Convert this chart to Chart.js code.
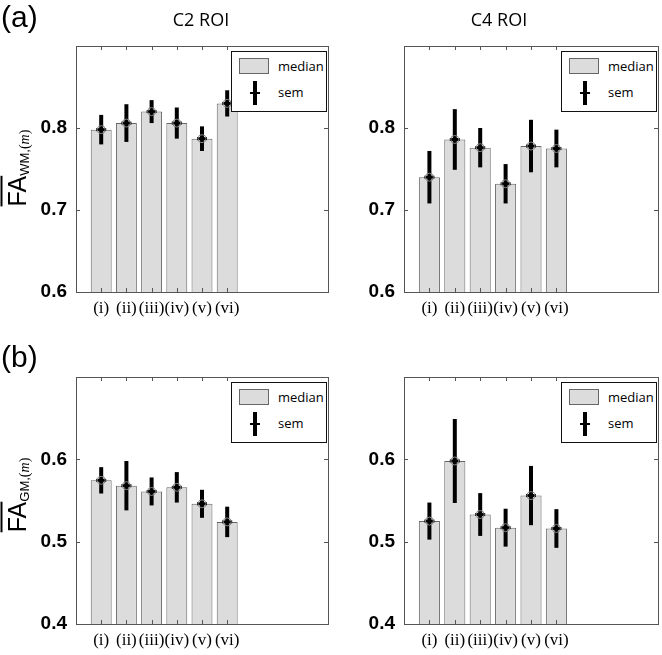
<!DOCTYPE html>
<html>
<head>
<meta charset="utf-8">
<script src="https://cdn.jsdelivr.net/npm/chart.js@4.4.0/dist/chart.umd.min.js"></script>
<style>
    body { margin: 0; background: #fff; }
    #fig { position: relative; width: 662px; height: 655px; overflow: hidden; font-family: "Liberation Sans", Arial, sans-serif; color: #000; }
    #fig canvas { position: absolute; }
    .lbl { position: absolute; white-space: nowrap; line-height: 1; }
    .tag { font-size: 30px; }
    .ttl { font-family: "Open Sans", sans-serif; font-size: 18px; transform: translate(-50%, -50%); }
    .ytitle { font-size: 25px; transform: translate(-50%, -50%) rotate(-90deg); }
    .ytitle .fa { text-decoration: overline; text-decoration-thickness: 1.5px; }
    .ytitle .sub { font-size: 13px; position: relative; top: 3px; }
    .ytitle .sub span { font-family: "Liberation Serif", serif; font-size: 14px; }
    .leg { position: absolute; width: 94px; height: 59px; border: 1.5px solid #111; background: #fff; font-family: "Open Sans", sans-serif; font-size: 13px; }
    .leg .patch { position: absolute; left: 7px; top: 6px; width: 28px; height: 14px; background: #dcdcdc; border: 1px solid #666; }
    .leg .t1 { position: absolute; left: 46px; top: 5px; }
    .leg .t2 { position: absolute; left: 46px; top: 31px; }
    .leg .v { position: absolute; left: 21px; top: 29px; width: 4px; height: 24px; background: #000; }
    .leg .h { position: absolute; left: 18px; top: 40px; width: 10px; height: 2px; background: #000; }
</style>
</head>
<body>
<div id="fig">
    <canvas id="c1" width="331" height="330" style="left:0;top:0"></canvas>
    <canvas id="c2" width="331" height="330" style="left:331px;top:0"></canvas>
    <canvas id="c3" width="331" height="325" style="left:0;top:330px"></canvas>
    <canvas id="c4" width="331" height="325" style="left:331px;top:330px"></canvas>

    <div class="lbl tag" style="left:1px;top:2px">(a)</div>
    <div class="lbl tag" style="left:1px;top:342px">(b)</div>
    <div class="lbl ttl" style="left:201px;top:19px">C2 ROI</div>
    <div class="lbl ttl" style="left:499px;top:19px">C4 ROI</div>
    <div class="lbl ytitle" style="left:17px;top:168px"><span class="fa">FA</span><span class="sub">WM,<span>(<i>m</i>)</span></span></div>
    <div class="lbl ytitle" style="left:17px;top:495px"><span class="fa">FA</span><span class="sub">GM,<span>(<i>m</i>)</span></span></div>
</div>

<script>
// --- data ---
const roiLabels = ['(i)', '(ii)', '(iii)', '(iv)', '(v)', '(vi)'];
const roiPos = [1, 2, 3, 4, 5, 6];
const xRange = [0, 10];

const wmC2Median = [0.798, 0.806, 0.820, 0.806, 0.787, 0.830];
const wmC2Sem    = [0.018, 0.023, 0.014, 0.019, 0.015, 0.016];
const wmC4Median = [0.740, 0.786, 0.776, 0.732, 0.778, 0.775];
const wmC4Sem    = [0.032, 0.037, 0.024, 0.024, 0.032, 0.023];
const gmC2Median = [0.5745, 0.568, 0.561, 0.566, 0.546, 0.524];
const gmC2Sem    = [0.016, 0.030, 0.017, 0.0185, 0.017, 0.0185];
const gmC4Median = [0.525, 0.598, 0.533, 0.517, 0.556, 0.516];
const gmC4Sem    = [0.0225, 0.051, 0.026, 0.023, 0.036, 0.0235];

const wmRange = [0.6, 0.9];
const wmTicks = [0.6, 0.7, 0.8];
const gmRange = [0.4, 0.7];
const gmTicks = [0.4, 0.5, 0.6];

const legendLabels = ['median', 'sem'];

// sem bars: thick black line, '+' and a faint circle at the median
const errorBars = {
    id: 'errorBars',
    afterDatasetsDraw(chart) {
        const ctx = chart.ctx, xs = chart.scales.x, ys = chart.scales.y;
        chart.data.datasets.forEach(ds => {
            ds.data.forEach((p, i) => {
                const x = xs.getPixelForValue(p.x);
                const yHi = ys.getPixelForValue(p.y + ds.sem[i]);
                const yLo = ys.getPixelForValue(p.y - ds.sem[i]);
                const yMid = ys.getPixelForValue(p.y);
                ctx.save();
                ctx.strokeStyle = '#000';
                ctx.lineWidth = 4;
                ctx.beginPath(); ctx.moveTo(x, yHi); ctx.lineTo(x, yLo); ctx.stroke();
                ctx.lineWidth = 3;
                ctx.beginPath(); ctx.moveTo(x - 5, yMid); ctx.lineTo(x + 5, yMid); ctx.stroke();
                ctx.lineWidth = 1; ctx.strokeStyle = '#888';
                ctx.beginPath(); ctx.arc(x, yMid, 4, 0, Math.PI * 2); ctx.stroke();
                ctx.restore();
            });
        });
    }
};

// matlab style box with inward ticks on all four sides
const boxFrame = {
    id: 'boxFrame',
    afterDraw(chart) {
        const { ctx, chartArea: a } = chart, xs = chart.scales.x, ys = chart.scales.y;
        ctx.save();
        ctx.strokeStyle = '#555'; ctx.lineWidth = 1;
        ctx.strokeRect(a.left + 0.5, a.top + 0.5, a.right - a.left, a.bottom - a.top);
        ctx.beginPath();
        ys.ticks.forEach(t => {
            const y = Math.round(ys.getPixelForValue(t.value)) + 0.5;
            ctx.moveTo(a.left, y); ctx.lineTo(a.left + 4, y);
            ctx.moveTo(a.right, y); ctx.lineTo(a.right - 4, y);
        });
        xs.ticks.forEach(t => {
            const x = Math.round(xs.getPixelForValue(t.value)) + 0.5;
            ctx.moveTo(x, a.top); ctx.lineTo(x, a.top + 4);
            ctx.moveTo(x, a.bottom); ctx.lineTo(x, a.bottom - 4);
        });
        ctx.stroke();
        ctx.restore();
    }
};

function addLegend(chart, canvas) {
    const a = chart.chartArea;
    const leg = document.createElement('div');
    leg.className = 'leg';
    leg.style.left = (canvas.offsetLeft + a.right - 97) + 'px';
    leg.style.top = (canvas.offsetTop + a.top + 5) + 'px';
    leg.innerHTML = `<div class="patch"></div><div class="t1">${legendLabels[0]}</div>
        <div class="v"></div><div class="h"></div><div class="t2">${legendLabels[1]}</div>`;
    document.getElementById('fig').appendChild(leg);
}

function makePanel(id, median, sem, range, ticks, box) {
    const canvas = document.getElementById(id);
    const chart = new Chart(canvas, {
        type: 'bar',
        data: {
            datasets: [{
                data: roiPos.map((x, i) => ({ x: x, y: median[i] })),
                sem: sem,
                backgroundColor: '#dcdcdc',
                borderColor: '#666',
                borderWidth: 1,
                barPercentage: 0.83,
                categoryPercentage: 1
            }]
        },
        options: {
            responsive: false,
            animation: false,
            layout: { padding: { top: box.top, right: box.right, left: 0, bottom: 0 } },
            plugins: { legend: { display: false }, tooltip: { enabled: false } },
            scales: {
                x: {
                    type: 'linear', min: xRange[0], max: xRange[1], offset: false,
                    grid: { display: false, drawTicks: false, offset: false }, border: { display: false },
                    afterBuildTicks: s => { s.ticks = roiPos.map(v => ({ value: v })); },
                    afterFit: s => { s.height = box.axisH; },
                    ticks: {
                        autoSkip: false, maxRotation: 0, padding: 6, color: '#000',
                        font: { family: '"Liberation Serif", serif', size: 17 },
                        callback: v => roiLabels[roiPos.indexOf(v)]
                    }
                },
                y: {
                    min: range[0], max: range[1],
                    grid: { display: false, drawTicks: false }, border: { display: false },
                    afterBuildTicks: s => { s.ticks = ticks.map(v => ({ value: v })); },
                    afterFit: s => { s.width = box.axisW; },
                    ticks: {
                        padding: 9, color: '#000',
                        font: { family: '"Liberation Sans", Arial', size: 19, weight: 'bold' },
                        callback: v => v.toFixed(1)
                    }
                }
            }
        },
        plugins: [errorBars, boxFrame]
    });
    addLegend(chart, canvas);
    return chart;
}

makePanel('c1', wmC2Median, wmC2Sem, wmRange, wmTicks, { top: 46, right: 3, axisW: 76, axisH: 38 });
makePanel('c2', wmC4Median, wmC4Sem, wmRange, wmTicks, { top: 46, right: 4, axisW: 73, axisH: 38 });
makePanel('c3', gmC2Median, gmC2Sem, gmRange, gmTicks, { top: 47, right: 3, axisW: 76, axisH: 31 });
makePanel('c4', gmC4Median, gmC4Sem, gmRange, gmTicks, { top: 47, right: 4, axisW: 73, axisH: 31 });
</script>
</body>
</html>
